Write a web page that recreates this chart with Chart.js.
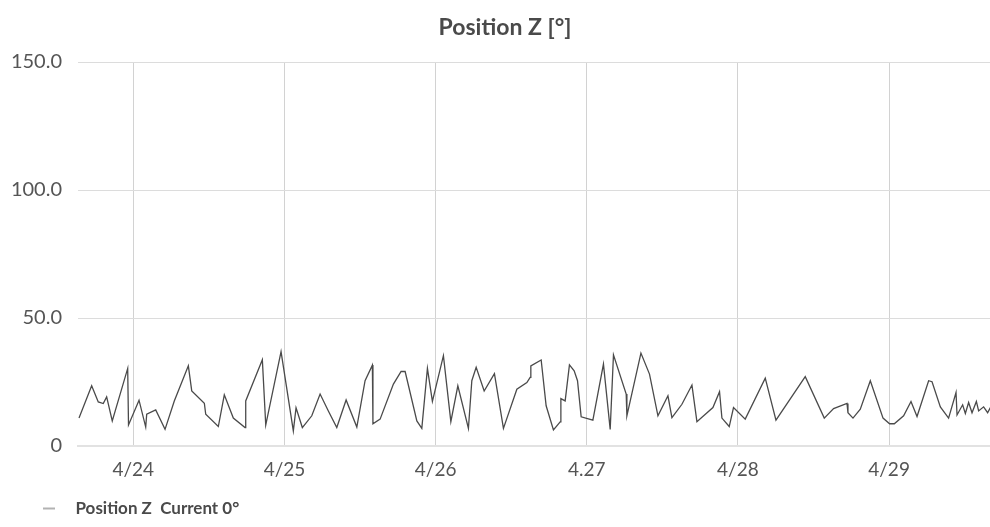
<!DOCTYPE html>
<html>
<head>
<meta charset="utf-8">
<script src="https://cdn.jsdelivr.net/npm/chart.js@4"></script>
<style>
  html, body { margin: 0; padding: 0; background: #fff; overflow: hidden; }
  #wrap { width: 1020px; height: 527px; position: relative; }
</style>
</head>
<body>
<div id="wrap"><canvas id="c" width="1020" height="527"></canvas></div>
<script>
// ---- data (hours since 4/24 00:00) ----
const tickHours = [0, 24, 48, 72, 96, 120];
const tickLabels = ['4/24', '4/25', '4/26', '4.27', '4/28', '4/29'];
const yTicks = [0, 50, 100, 150];
const seriesName = 'Position Z  Current 0°';
const hours = [
  -8.62, -6.61, -5.56, -4.77, -4.23, -3.34, -0.89, -0.76, 0.91, 1.97, 2.13, 3.56, 5.04, 6.51, 8.74, 9.28,
  11.28, 11.5, 13.5, 14.45, 15.88, 17.74, 17.85, 20.49, 21.03, 23.46, 25.41, 25.84, 26.84, 28.34, 29.66,
  30.97, 32.31, 33.79, 35.49, 36.8, 37.96, 38.05, 39.19, 41.3, 42.52, 43.16, 45.02, 45.81, 46.7, 47.49,
  49.24, 50.42, 51.53, 53.21, 53.75, 54.44, 55.71, 57.34, 58.77, 60.9, 62.49, 63.01, 63.12, 64.76, 65.55,
  66.71, 67.78, 67.89, 68.57, 69.25, 70.0, 70.53, 71.11, 72.97, 74.65, 75.72, 76.24, 78.26, 78.37, 80.6,
  81.96, 83.3, 84.89, 85.52, 87.11, 88.7, 89.49, 92.03, 93.08, 93.46, 94.62, 95.3, 97.16, 100.34, 102.04,
  106.69, 109.71, 111.19, 113.32, 113.47, 114.27, 115.43, 117.02, 119.04, 120.08, 120.83, 122.31, 123.48,
  124.44, 126.28, 126.82, 128.14, 129.45, 130.63, 130.79, 131.68, 132.11, 132.63, 133.17, 133.86, 134.22,
  135.01, 135.65, 136.08
];
const values = [
  10.9, 23.5, 17.2, 16.6, 19.2, 9.8, 30.3, 8.2, 17.9, 7.4, 12.4, 14.1, 6.5, 17.6, 31.3, 21.5,
  16.7, 12.4, 7.6, 20.0, 10.9, 7.2, 17.6, 33.7, 8.2, 36.9, 5.9, 14.9, 7.2, 11.8, 20.3,
  13.7, 7.2, 18.0, 7.4, 25.5, 31.6, 8.7, 10.5, 24.2, 29.1, 29.1, 9.8, 6.9, 30.3, 17.4,
  35.3, 9.5, 23.5, 6.9, 25.5, 30.7, 21.5, 28.3, 6.9, 22.2, 24.8, 26.8, 31.3, 33.6, 15.7,
  6.3, 9.4, 18.5, 17.6, 31.7, 29.4, 25.5, 11.4, 10.1, 32.0, 6.5, 35.6, 20.3, 11.8, 36.3,
  28.1, 11.8, 19.6, 11.1, 16.3, 23.8, 9.5, 15.0, 21.2, 10.9, 7.6, 15.0, 10.5, 26.5, 10.1,
  27.1, 10.9, 14.6, 16.6, 13.0, 10.9, 14.4, 25.5, 10.9, 8.7, 8.7, 11.8, 17.4,
  11.5, 25.5, 25.1, 15.3, 10.9, 20.9, 12.1, 16.1, 12.7, 17.0, 13.0, 17.4, 13.7,
  15.3, 13.0, 15.0
];
const xMin = -8.78, xMax = 139.2;

const points = hours.map((h, i) => ({ x: h, y: values[i] }));

// legend marker: short line with leading space
const marker = document.createElement('canvas');
marker.width = 57; marker.height = 4;
(function () {
  const m = marker.getContext('2d');
  m.strokeStyle = '#999';
  m.lineWidth = 1.5;
  m.beginPath(); m.moveTo(33, 2); m.lineTo(45, 2); m.stroke();
})();

const FONT = 'Lato, "Open Sans", sans-serif';

new Chart(document.getElementById('c'), {
  type: 'line',
  data: {
    datasets: [{
      label: seriesName,
      data: points,
      borderColor: '#4a4a4a',
      borderWidth: 1.3,
      pointRadius: 0,
      tension: 0,
      fill: false
    }]
  },
  options: {
    responsive: false,
    animation: false,
    layout: { padding: { left: 0, right: 10, top: 0, bottom: 0 } },
    plugins: {
      title: {
        display: true,
        text: 'Position Z [°]',
        color: '#4a4a4a',
        font: { family: FONT, size: 23, weight: 'bold' },
        padding: { top: 13.7, bottom: 20.7 }
      },
      legend: {
        display: true,
        position: 'bottom',
        align: 'start',
        labels: {
          usePointStyle: true,
          pointStyle: marker,
          pointStyleWidth: 57,
          color: '#4a4a4a',
          font: { family: FONT, size: 17, weight: 'bold' },
          padding: 10,
          generateLabels: (chart) => [{
            text: seriesName,
            pointStyle: marker,
            fillStyle: '#999',
            strokeStyle: '#999',
            lineWidth: 0,
            fontColor: '#4a4a4a',
            datasetIndex: 0
          }]
        }
      },
      tooltip: { enabled: false }
    },
    scales: {
      x: {
        type: 'linear',
        min: xMin,
        max: xMax,
        afterBuildTicks: (scale) => { scale.ticks = tickHours.map(v => ({ value: v })); },
        afterFit: (scale) => { scale.height = 44; },
        ticks: {
          autoSkip: false,
          maxRotation: 0,
          padding: 12,
          color: '#555',
          font: { family: FONT, size: 19 },
          callback: (v) => { const i = tickHours.indexOf(v); return i >= 0 ? tickLabels[i] : ''; }
        },
        grid: { color: '#d2d2d2', lineWidth: 1, drawTicks: false },
        border: { display: true, color: '#e2e2e2', width: 2 }
      },
      y: {
        type: 'linear',
        min: 0,
        max: 150,
        afterBuildTicks: (scale) => { scale.ticks = yTicks.map(v => ({ value: v })); },
        afterFit: (scale) => { scale.width = 78; },
        ticks: {
          padding: 16,
          color: '#555',
          font: { family: FONT, size: 20 },
          callback: (v) => v === 0 ? '0' : Number(v).toFixed(1)
        },
        grid: { color: '#dcdcdc', lineWidth: 1, drawTicks: false },
        border: { display: false }
      }
    }
  }
});
</script>
</body>
</html>
